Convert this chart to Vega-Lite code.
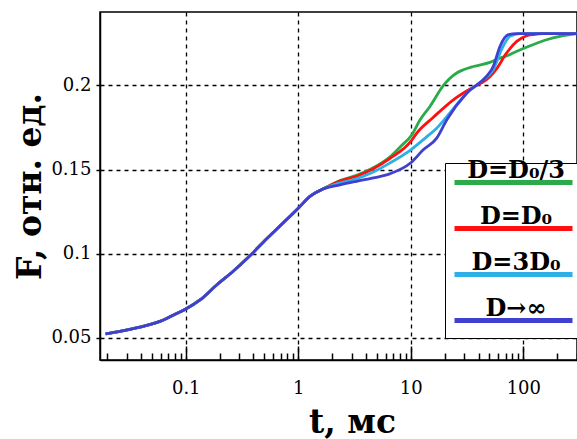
{
  "$schema": "https://vega.github.io/schema/vega-lite/v6.json",
  "width": 477,
  "height": 348,
  "autosize": "none",
  "padding": {"left": 100, "top": 12, "right": 0, "bottom": 79},
  "background": "white",
  "config": {
    "view": {"stroke": "black", "strokeWidth": 1.5},
    "font": "DejaVu Serif",
    "text": {"font": "DejaVu Serif"},
    "axis": {"labelFont": "DejaVu Serif", "titleFont": "DejaVu Serif"},
    "legend": {"labelFont": "DejaVu Serif"}
  },
  "data": {
    "values": [
      {"s": "D=D₀/3", "t": 0.0194, "F": 0.0522}, {"s": "D=D₀/3", "t": 0.026, "F": 0.0537}, {"s": "D=D₀/3", "t": 0.039, "F": 0.0562},
      {"s": "D=D₀/3", "t": 0.0477, "F": 0.0577}, {"s": "D=D₀/3", "t": 0.059, "F": 0.0597}, {"s": "D=D₀/3", "t": 0.0676, "F": 0.0614},
      {"s": "D=D₀/3", "t": 0.083, "F": 0.0643}, {"s": "D=D₀/3", "t": 0.1, "F": 0.067}, {"s": "D=D₀/3", "t": 0.134, "F": 0.0724},
      {"s": "D=D₀/3", "t": 0.188, "F": 0.0813}, {"s": "D=D₀/3", "t": 0.264, "F": 0.0895}, {"s": "D=D₀/3", "t": 0.36, "F": 0.0978},
      {"s": "D=D₀/3", "t": 0.524, "F": 0.1088}, {"s": "D=D₀/3", "t": 0.736, "F": 0.1183}, {"s": "D=D₀/3", "t": 1.0, "F": 0.127},
      {"s": "D=D₀/3", "t": 1.27, "F": 0.134}, {"s": "D=D₀/3", "t": 1.67, "F": 0.1385},
      {"s": "D=D₀/3", "t": 2.35, "F": 0.1435}, {"s": "D=D₀/3", "t": 3.3, "F": 0.1465}, {"s": "D=D₀/3", "t": 4.64, "F": 0.151},
      {"s": "D=D₀/3", "t": 6.5, "F": 0.1574}, {"s": "D=D₀/3", "t": 8.2, "F": 0.164}, {"s": "D=D₀/3", "t": 10.2, "F": 0.1705},
      {"s": "D=D₀/3", "t": 12.1, "F": 0.1796}, {"s": "D=D₀/3", "t": 14.8, "F": 0.1875}, {"s": "D=D₀/3", "t": 19.5, "F": 0.2},
      {"s": "D=D₀/3", "t": 25.6, "F": 0.2074}, {"s": "D=D₀/3", "t": 29.3, "F": 0.2093}, {"s": "D=D₀/3", "t": 36, "F": 0.2113},
      {"s": "D=D₀/3", "t": 50.5, "F": 0.2137}, {"s": "D=D₀/3", "t": 62, "F": 0.2163}, {"s": "D=D₀/3", "t": 71, "F": 0.2175},
      {"s": "D=D₀/3", "t": 81, "F": 0.2193}, {"s": "D=D₀/3", "t": 100, "F": 0.222}, {"s": "D=D₀/3", "t": 130, "F": 0.225},
      {"s": "D=D₀/3", "t": 161, "F": 0.2272}, {"s": "D=D₀/3", "t": 211, "F": 0.2292}, {"s": "D=D₀/3", "t": 260, "F": 0.2302},
      {"s": "D=D₀/3", "t": 300, "F": 0.2308},

      {"s": "D=D₀", "t": 0.0194, "F": 0.0522}, {"s": "D=D₀", "t": 0.026, "F": 0.0537}, {"s": "D=D₀", "t": 0.039, "F": 0.0562},
      {"s": "D=D₀", "t": 0.0477, "F": 0.0577}, {"s": "D=D₀", "t": 0.059, "F": 0.0597}, {"s": "D=D₀", "t": 0.0676, "F": 0.0614},
      {"s": "D=D₀", "t": 0.083, "F": 0.0643}, {"s": "D=D₀", "t": 0.1, "F": 0.067}, {"s": "D=D₀", "t": 0.134, "F": 0.0724},
      {"s": "D=D₀", "t": 0.188, "F": 0.0813}, {"s": "D=D₀", "t": 0.264, "F": 0.0895}, {"s": "D=D₀", "t": 0.36, "F": 0.0978},
      {"s": "D=D₀", "t": 0.524, "F": 0.1088}, {"s": "D=D₀", "t": 0.736, "F": 0.1183}, {"s": "D=D₀", "t": 1.0, "F": 0.127},
      {"s": "D=D₀", "t": 1.27, "F": 0.134}, {"s": "D=D₀", "t": 1.67, "F": 0.1385},
      {"s": "D=D₀", "t": 2.35, "F": 0.1432}, {"s": "D=D₀", "t": 3.3, "F": 0.146}, {"s": "D=D₀", "t": 4.64, "F": 0.1505},
      {"s": "D=D₀", "t": 6.5, "F": 0.1565}, {"s": "D=D₀", "t": 10, "F": 0.1667}, {"s": "D=D₀", "t": 11.3, "F": 0.1717},
      {"s": "D=D₀", "t": 15.8, "F": 0.181}, {"s": "D=D₀", "t": 23.9, "F": 0.1915}, {"s": "D=D₀", "t": 36, "F": 0.199},
      {"s": "D=D₀", "t": 47, "F": 0.2034}, {"s": "D=D₀", "t": 54, "F": 0.2074}, {"s": "D=D₀", "t": 58, "F": 0.21},
      {"s": "D=D₀", "t": 71, "F": 0.2193}, {"s": "D=D₀", "t": 87.5, "F": 0.2262}, {"s": "D=D₀", "t": 107, "F": 0.2296},
      {"s": "D=D₀", "t": 122, "F": 0.2303}, {"s": "D=D₀", "t": 150, "F": 0.2308}, {"s": "D=D₀", "t": 300, "F": 0.2308},

      {"s": "D=3D₀", "t": 0.0194, "F": 0.0522}, {"s": "D=3D₀", "t": 0.026, "F": 0.0537}, {"s": "D=3D₀", "t": 0.039, "F": 0.0562},
      {"s": "D=3D₀", "t": 0.0477, "F": 0.0577}, {"s": "D=3D₀", "t": 0.059, "F": 0.0597}, {"s": "D=3D₀", "t": 0.0676, "F": 0.0614},
      {"s": "D=3D₀", "t": 0.083, "F": 0.0643}, {"s": "D=3D₀", "t": 0.1, "F": 0.067}, {"s": "D=3D₀", "t": 0.134, "F": 0.0724},
      {"s": "D=3D₀", "t": 0.188, "F": 0.0813}, {"s": "D=3D₀", "t": 0.264, "F": 0.0895}, {"s": "D=3D₀", "t": 0.36, "F": 0.0978},
      {"s": "D=3D₀", "t": 0.524, "F": 0.1088}, {"s": "D=3D₀", "t": 0.736, "F": 0.1183}, {"s": "D=3D₀", "t": 1.0, "F": 0.127},
      {"s": "D=3D₀", "t": 1.27, "F": 0.134}, {"s": "D=3D₀", "t": 1.67, "F": 0.1385},
      {"s": "D=3D₀", "t": 2.35, "F": 0.142}, {"s": "D=3D₀", "t": 3.3, "F": 0.1445}, {"s": "D=3D₀", "t": 4.64, "F": 0.1485},
      {"s": "D=3D₀", "t": 6.5, "F": 0.1538}, {"s": "D=3D₀", "t": 10, "F": 0.1617}, {"s": "D=3D₀", "t": 13.9, "F": 0.1696},
      {"s": "D=3D₀", "t": 17, "F": 0.1746}, {"s": "D=3D₀", "t": 20.9, "F": 0.1815}, {"s": "D=3D₀", "t": 31.5, "F": 0.1955},
      {"s": "D=3D₀", "t": 44, "F": 0.2034}, {"s": "D=3D₀", "t": 54, "F": 0.2093}, {"s": "D=3D₀", "t": 64, "F": 0.2213},
      {"s": "D=3D₀", "t": 76, "F": 0.2292}, {"s": "D=3D₀", "t": 93, "F": 0.2308}, {"s": "D=3D₀", "t": 300, "F": 0.2308},

      {"s": "D→∞", "t": 0.0194, "F": 0.0522}, {"s": "D→∞", "t": 0.026, "F": 0.0537}, {"s": "D→∞", "t": 0.039, "F": 0.0562},
      {"s": "D→∞", "t": 0.0477, "F": 0.0577}, {"s": "D→∞", "t": 0.059, "F": 0.0597}, {"s": "D→∞", "t": 0.0676, "F": 0.0614},
      {"s": "D→∞", "t": 0.083, "F": 0.0643}, {"s": "D→∞", "t": 0.1, "F": 0.067}, {"s": "D→∞", "t": 0.134, "F": 0.0724},
      {"s": "D→∞", "t": 0.188, "F": 0.0813}, {"s": "D→∞", "t": 0.264, "F": 0.0895}, {"s": "D→∞", "t": 0.36, "F": 0.0978},
      {"s": "D→∞", "t": 0.524, "F": 0.1088}, {"s": "D→∞", "t": 0.736, "F": 0.1183}, {"s": "D→∞", "t": 1.0, "F": 0.127},
      {"s": "D→∞", "t": 1.27, "F": 0.134}, {"s": "D→∞", "t": 1.67, "F": 0.1385},
      {"s": "D→∞", "t": 2.35, "F": 0.1409}, {"s": "D→∞", "t": 3.3, "F": 0.143}, {"s": "D→∞", "t": 4.64, "F": 0.145},
      {"s": "D→∞", "t": 6.5, "F": 0.1474}, {"s": "D→∞", "t": 10, "F": 0.154}, {"s": "D→∞", "t": 12.9, "F": 0.1617},
      {"s": "D→∞", "t": 17, "F": 0.1687}, {"s": "D→∞", "t": 20.9, "F": 0.1796}, {"s": "D→∞", "t": 31.5, "F": 0.1955},
      {"s": "D→∞", "t": 47, "F": 0.2054}, {"s": "D→∞", "t": 54, "F": 0.2113}, {"s": "D→∞", "t": 62, "F": 0.2232},
      {"s": "D→∞", "t": 73.5, "F": 0.2302}, {"s": "D→∞", "t": 87.5, "F": 0.2308}, {"s": "D→∞", "t": 300, "F": 0.2308}
    ]
  },
  "mark": {"type": "line", "strokeWidth": 2.8, "interpolate": "monotone", "clip": true},
  "encoding": {
    "x": {
      "field": "t",
      "type": "quantitative",
      "scale": {"type": "log", "domain": [0.0173, 300], "nice": false},
      "axis": {
        "title": "t, мс",
        "values": [0.02, 0.03, 0.04, 0.05, 0.06, 0.07, 0.08, 0.09, 0.1, 0.2, 0.3, 0.4, 0.5, 0.6, 0.7, 0.8, 0.9, 1, 2, 3, 4, 5, 6, 7, 8, 9, 10, 20, 30, 40, 50, 60, 70, 80, 90, 100, 200, 300],
        "format": "~g",
        "labelExpr": "abs(log(datum.value)/LN10 - round(log(datum.value)/LN10)) < 0.001 ? datum.label : ''",
        "labelOverlap": false,
        "labelFlush": false,
        "labelBound": false,
        "grid": true,
        "gridColor": "black",
        "gridDash": [4, 4],
        "gridWidth": 1.3,
        "gridOpacity": {"condition": {"test": "abs(log(datum.value)/LN10 - round(log(datum.value)/LN10)) < 0.001", "value": 1}, "value": 0},
        "tickSize": {"condition": {"test": "abs(log(datum.value)/LN10 - round(log(datum.value)/LN10)) < 0.001", "value": -14}, "value": -7},
        "tickColor": "black",
        "tickWidth": 1.5,
        "domainColor": "black",
        "domainWidth": 1.5,
        "labelFont": "DejaVu Serif",
        "labelFontSize": 18,
        "labelColor": "black",
        "labelPadding": 33,
        "titleFont": "DejaVu Serif",
        "titleFontSize": 33,
        "titleFontWeight": "bold",
        "titleColor": "black",
        "titleX": 252,
        "titleY": 72,
        "titleBaseline": "alphabetic",
        "titleAlign": "center"
      }
    },
    "y": {
      "field": "F",
      "type": "quantitative",
      "scale": {"domain": [0.0367, 0.2437], "nice": false, "zero": false},
      "axis": {
        "title": "F, отн. ед.",
        "values": [0.05, 0.1, 0.15, 0.2],
        "format": "~g",
        "grid": true,
        "gridColor": "black",
        "gridDash": [4, 4],
        "gridWidth": 1.3,
        "tickSize": 4,
        "tickColor": "black",
        "tickWidth": 1.5,
        "domainColor": "black",
        "domainWidth": 1.5,
        "labelFont": "DejaVu Serif",
        "labelFontSize": 18,
        "labelColor": "black",
        "labelPadding": 5,
        "titleFont": "DejaVu Serif",
        "titleFontSize": 33,
        "titleFontWeight": "bold",
        "titleColor": "black",
        "titleX": -60,
        "titleY": 174,
        "titleBaseline": "alphabetic",
        "titleAlign": "center",
        "titleAngle": -90
      }
    },
    "color": {
      "field": "s",
      "type": "nominal",
      "scale": {
        "domain": ["D=D₀/3", "D=D₀", "D=3D₀", "D→∞"],
        "range": ["#2aaa48", "#ff1010", "#2db0e6", "#4040d0"]
      },
      "legend": {
        "title": null,
        "orient": "none",
        "legendX": 345,
        "legendY": 151,
        "symbolType": "M-1,0L10.8,0",
        "symbolSize": 400,
        "symbolStrokeWidth": 5,
        "labelFont": "DejaVu Serif",
        "labelFontWeight": "bold",
        "labelFontSize": 24,
        "labelColor": "black",
        "labelAlign": "center",
        "labelBaseline": "bottom",
        "labelOffset": 39,
        "labelLimit": 0,
        "strokeColor": "black",
        "fillColor": "white",
        "padding": 7,
        "rowPadding": 11
      }
    }
  }
}
